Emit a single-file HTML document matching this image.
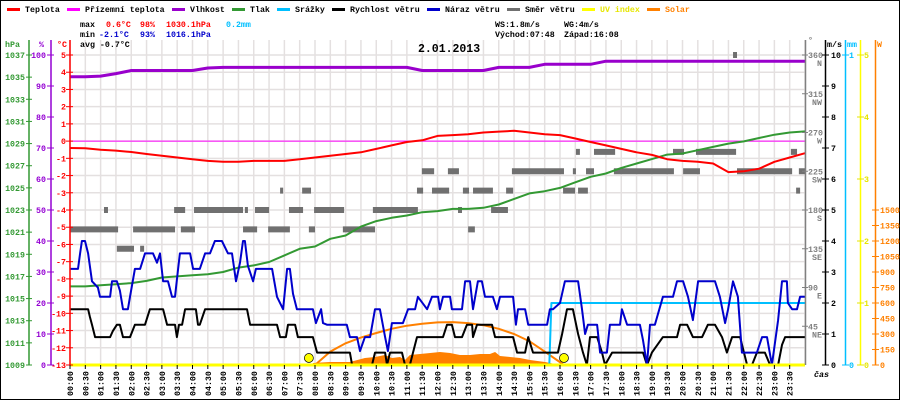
<!DOCTYPE html>
<html><head><meta charset="utf-8">
<style>
html,body{margin:0;padding:0;background:#fff}
#wrap{position:relative;width:900px;height:400px;overflow:hidden}
svg{display:block}
text{font-family:"Liberation Mono",monospace;font-size:8.3px;font-weight:bold}
</style></head>
<body>
<div id="wrap">
<svg id="chart" width="900" height="400" viewBox="0 0 900 400">
<rect x="0.5" y="0.5" width="899" height="399" fill="#fff" stroke="#000"/>
<g id="grid"></g>
<g id="marks"></g>
<g id="axes"></g>
<g id="legend"></g>
<g>
<text x="80" y="27">max</text>
<text x="106" y="27" fill="#f00">0.6°C</text>
<text x="140" y="27" fill="#f00">98%</text>
<text x="166" y="27" fill="#f00">1030.1hPa</text>
<text x="226" y="27" fill="#00bfff">0.2mm</text>
<text x="80" y="37">min</text>
<text x="99" y="37" fill="#00c">-2.1°C</text>
<text x="140" y="37" fill="#00c">93%</text>
<text x="166" y="37" fill="#00c">1016.1hPa</text>
<text x="80" y="47">avg -0.7°C</text>
<text x="495" y="27">WS:1.8m/s</text>
<text x="564" y="27">WG:4m/s</text>
<text x="495" y="37">Východ:07:48</text>
<text x="564" y="37">Západ:16:08</text>
<text x="418" y="52" style="font-size:11.5px;font-weight:bold">2.01.2013</text>
</g>
</svg>
</div>
<script>
// ---- data ----
const tempTimes=[0,0.5,1,1.5,2,2.5,3,3.5,4,4.5,5,5.5,6,6.5,7,7.5,8,8.5,9,9.5,10,10.5,11,11.5,12,12.5,13,13.5,14,14.5,15,15.5,16,16.5,17,17.5,18,18.5,19,19.5,20,20.5,21,21.5,22,22.5,23,23.5,24];
const tempValues=[-0.40,-0.42,-0.50,-0.55,-0.63,-0.75,-0.85,-0.95,-1.05,-1.15,-1.20,-1.20,-1.15,-1.15,-1.15,-1.05,-0.95,-0.85,-0.75,-0.65,-0.45,-0.25,-0.05,0.05,0.30,0.35,0.40,0.50,0.55,0.60,0.50,0.40,0.35,0.15,-0.05,-0.25,-0.45,-0.65,-0.80,-1.05,-1.15,-1.20,-1.30,-1.80,-1.75,-1.60,-1.20,-0.95,-0.70];
const humValues=[93,93,93.2,94,95,95,95,95,95,95.8,96,96,96,96,96,96,96,96,96,96,96,96,96,95,95,95,95,95,96,96,96,97,97,97,97,98,98,98,98,98,98,98,98,98,98,98,98,98,98];
const pressValues=[1016.1,1016.1,1016.2,1016.3,1016.4,1016.6,1016.9,1017.0,1017.1,1017.2,1017.4,1017.8,1018.0,1018.3,1018.9,1019.5,1019.7,1020.4,1020.7,1021.5,1022.0,1022.3,1022.5,1022.8,1022.9,1023.1,1023.1,1023.2,1023.5,1024.0,1024.5,1024.7,1025.0,1025.5,1026.0,1026.3,1026.8,1027.2,1027.6,1028.0,1028.1,1028.4,1028.7,1029.0,1029.2,1029.5,1029.8,1030.0,1030.1];
const feelsTimes=[0,24];
const feelsValues=[0,0];
const gustTimes=[0,0.26,0.33,0.39,0.49,0.59,0.72,0.91,0.98,1.31,1.37,1.53,1.63,1.73,1.89,1.96,2.12,2.29,2.45,2.71,2.84,2.94,3.04,3.20,3.33,3.43,3.53,3.59,3.92,4.02,4.24,4.41,4.57,4.73,4.96,5.16,5.29,5.42,5.55,5.65,5.71,5.81,5.98,6.07,6.60,6.76,6.96,7.09,7.18,7.28,7.41,7.93,8.03,8.20,8.26,8.39,9.04,9.14,9.37,9.47,9.63,9.80,9.96,10.12,10.29,10.38,10.51,10.87,11.04,11.27,11.36,11.66,11.82,12.02,12.08,12.18,12.41,12.47,12.80,12.90,13.06,13.16,13.32,13.45,13.55,13.81,13.94,14.04,14.47,14.56,14.63,14.86,14.96,15.58,15.67,15.77,16.00,16.16,16.59,16.72,16.82,16.91,17.21,17.31,17.53,17.63,17.96,18.02,18.19,18.61,18.71,18.84,18.94,19.10,19.36,19.69,19.82,20.02,20.18,20.34,20.51,21.06,21.22,21.39,21.49,21.65,21.81,21.94,22.43,22.60,22.76,22.92,23.12,23.25,23.41,23.44,23.58,23.74,23.84,24.00];
const gustValues=[3.1,3.1,3.6,4.0,4.0,3.6,2.7,2.5,2.2,2.2,2.7,2.7,2.4,1.8,1.8,2.2,3.1,3.1,3.6,3.6,3.3,3.6,2.7,2.7,2.2,2.2,3.1,3.6,3.6,3.1,3.1,3.6,3.6,4.0,4.0,3.6,3.6,2.7,3.3,4.0,4.0,3.2,2.7,3.1,3.1,2.2,1.8,3.1,3.1,2.3,1.8,1.8,1.35,1.8,1.35,1.3,1.3,0.9,0.9,0.45,0.9,0.9,1.8,1.8,0.9,0.45,1.35,1.35,1.8,1.8,2.2,1.8,2.2,2.2,1.8,2.2,2.2,1.8,1.8,2.7,2.7,1.8,2.7,2.7,2.2,2.2,1.8,2.2,2.2,1.3,1.8,1.8,1.3,1.3,1.8,1.8,2.0,2.7,2.7,1.8,1.0,1.3,1.3,0.4,0.4,1.3,1.3,1.8,1.3,1.3,0.8,0,1.3,1.3,2.2,2.2,2.7,2.7,2.2,1.45,2.7,2.7,2.2,1.35,1.8,2.7,2.2,0.4,0.4,0.9,0.9,0,1.45,2.7,2.7,2.0,1.8,1.8,2.2,2.2];
const windTimes=[0,0.59,0.65,0.72,0.82,1.31,1.40,1.53,1.63,1.73,1.96,2.12,2.45,2.61,3.04,3.17,3.43,3.49,3.56,3.66,3.76,4.11,4.18,4.24,4.41,5.78,5.88,6.76,6.86,7.05,7.12,7.35,7.44,7.93,8.07,9.14,9.21,9.86,9.96,10.29,10.35,10.45,10.84,10.94,11.10,11.20,11.33,12.18,12.31,12.47,12.57,12.80,12.96,13.13,13.16,13.29,13.78,13.88,14.47,14.60,14.86,14.96,15.12,15.93,16.07,16.23,16.42,16.59,16.75,16.88,16.98,17.21,17.37,17.47,17.70,18.71,18.84,19.00,19.36,19.82,19.92,20.15,20.34,20.64,20.83,21.06,21.29,21.45,21.62,21.88,22.11,22.27,22.43,22.69,22.86,23.12,23.25,23.35,24.00];
const windValues=[1.8,1.8,1.55,1.3,0.9,0.9,1.1,1.3,1.3,0.9,0.9,1.3,1.3,1.8,1.8,1.3,1.3,0.9,1.3,1.3,1.8,1.8,1.3,1.3,1.8,1.8,1.3,1.3,0.9,0.9,1.3,1.3,0.9,0.9,0.4,0.4,0,0,0.4,0.4,0,0.4,0.4,0,0,0.4,0.9,0.9,1.3,1.3,0.9,0.9,1.3,1.3,0.9,1.3,1.3,0.9,0.9,0.4,0.4,0.9,0.4,0.4,1.0,1.8,1.8,1.0,0.4,0,0.9,0.9,0.4,0,0.4,0.4,0,0.4,0.9,0.9,1.3,1.3,0.9,0.9,1.3,1.3,0.9,0.4,0.9,0.9,0,0,0.4,0.4,0,0,0.65,0.9,0.9];
const dirStart=[1.11,3.40,4.05,5.71,6.04,7.15,7.97,9.89,12.67,13.75, 0,2.06,3.62,5.65,6.47,7.80,8.91,13.00, 1.53,2.29, 6.86,7.58,11.33,11.82,12.83,13.16,14.24,16.10,16.59,23.71, 11.49,12.34,14.43,16.42,16.85,17.76,20.02,21.78,23.80, 16.52,17.11,19.69,20.44,23.54, 21.65];
const dirEnd=[1.24,3.76,5.65,5.81,6.50,7.61,8.95,11.36,12.80,14.30, 1.57,3.43,4.08,6.11,7.18,8.00,9.96,13.22, 2.09,2.42, 6.96,7.87,11.53,12.38,13.03,13.81,14.47,16.49,16.91,23.84, 11.89,12.70,16.13,16.52,17.11,19.72,20.57,23.58,24.00, 16.65,17.80,20.05,21.75,23.74, 21.78];
const dirDeg=[180,180,180,180,180,180,180,180,180,180, 157.5,157.5,157.5,157.5,157.5,157.5,157.5,157.5, 135,135, 202.5,202.5,202.5,202.5,202.5,202.5,202.5,202.5,202.5,202.5, 225,225,225,225,225,225,225,225,225, 247.5,247.5,247.5,247.5,247.5, 360];
const rainTimes=[0,15.65,15.72,24];
const rainValues=[0,0,0.2,0.2];
const uvTimes=[0,24];
const uvValues=[0,0];
const solarTimes=[7.93,8.49,9.14,9.63,9.96,10.29,10.51,10.78,10.94,11.10,11.43,11.76,12.08,12.41,12.73,13.06,13.39,13.71,13.88,14.04,14.37,14.69,15.02,15.51,15.84];
const solarValues=[19,29,29,68,77,97,68,77,48,97,106,116,126,116,97,97,106,106,126,87,77,68,48,29,10];
const solarMaxTimes=[8.0,8.5,9.0,9.5,10,10.5,11,11.5,12,12.5,13,13.5,14,14.5,15,15.5,16.13];
const solarMaxValues=[0,130,210,265,310,350,380,400,412,415,405,385,350,300,230,130,0];
const sunTimes=[7.8,16.13];
const tickHours=[0,0.5,1,1.5,2,2.5,3,3.5,4,4.5,5,5.5,6,6.5,7,7.5,8,8.5,9,9.5,10,10.5,11,11.5,12,12.5,13,13.5,14,14.5,15,15.5,16,16.5,17,17.5,18,18.5,19,19.5,20,20.5,21,21.5,22,22.5,23,23.5];
const tempTicks=[5,4,3,2,1,0,-1,-2,-3,-4,-5,-6,-7,-8,-9,-10,-11,-12,-13];
const pressTicks=[1037,1035,1033,1031,1029,1027,1025,1023,1021,1019,1017,1015,1013,1011,1009];
const humTicks=[100,90,80,70,60,50,40,30,20,10,0];
const dirTicks=[360,315,270,225,180,135,90,45];
const dirNames=["N","NW","W","SW","S","SE","E","NE"];
const windTicks=[10,9,8,7,6,5,4,3,2,1,0];
const uvTicks=[5,4,3,2,1,0];
const solarTicks=[1500,1350,1200,1050,900,750,600,450,300,150,0];

// ---- scales ----
const X0=70,X1=805,Y0=55,Y1=365;
const xH=h=>X0+h*(X1-X0)/24;
const yT=t=>Y0+(5-t)*(Y1-Y0)/18;
const yP=p=>Y0+(1037-p)*(Y1-Y0)/28;
const yHu=p=>Y1-p*(Y1-Y0)/100;
const yW=v=>Y1-v*(Y1-Y0)/10;
const yD=d=>Y1-d*(Y1-Y0)/360;
const yMM=m=>Y1-m*(Y1-Y0);
const yUV=u=>Y1-u*(Y1-Y0)/5;
const ySo=w=>Y1-w*(Y1-Y0)/3000;

const NS="http://www.w3.org/2000/svg";
function mk(tag,attrs,parent){const e=document.createElementNS(NS,tag);for(const k in attrs)e.setAttribute(k,attrs[k]);parent.appendChild(e);return e;}
const grid=document.getElementById('grid'),marks=document.getElementById('marks'),axes=document.getElementById('axes'),legend=document.getElementById('legend');

// grid
tickHours.concat([24]).forEach((h,i)=>{const l=mk('line',{x1:xH(h),x2:xH(h),y1:40,y2:Y1,stroke:'#e4e0e0','stroke-width':1.5},grid);

});
tempTicks.forEach(t=>{const l=mk('line',{x1:X0,x2:X1,y1:yT(t),y2:yT(t),stroke:'#e4e0e0','stroke-width':1.5},grid);

});

function pathFrom(ts,vs,xf,yf){return ts.map((t,i)=>(i?'L':'M')+xf(t).toFixed(1)+','+yf(vs[i]).toFixed(1)).join('');}

// solar area
let sd='M'+xH(solarTimes[0])+','+Y1+solarTimes.map((t,i)=>'L'+xH(t).toFixed(1)+','+ySo(solarValues[i]).toFixed(1)).join('')+'L'+xH(solarTimes[solarTimes.length-1])+','+Y1+'Z';
const sArea=mk('path',{d:sd,fill:'#ff8000'},marks);


const sMax=mk('path',{d:pathFrom(solarMaxTimes,solarMaxValues,xH,ySo),fill:'none',stroke:'#ff8000','stroke-width':2},marks);



// direction
dirDeg.forEach((d,i)=>{const r=mk('rect',{x:xH(dirStart[i]),y:yD(d)-3,width:Math.max(3,xH(dirEnd[i])-xH(dirStart[i])),height:6,fill:'#707070'},marks);

});

// feels-like
const fl=mk('path',{d:pathFrom(feelsTimes,feelsValues,xH,yT),fill:'none',stroke:'#ff00ff','stroke-width':1},marks);



const series=[
 ['pressure-line',tempTimes,pressValues,yP,'#339933',2],
 ['humidity-line',tempTimes,humValues,yHu,'#9900cc',3],
 ['temperature-line',tempTimes,tempValues,yT,'#ff0000',2],
 ['rain-line',rainTimes,rainValues,yMM,'#00bfff',2],
 ['wind-speed-line',windTimes,windValues,yW,'#000000',2],
 ['wind-gust-line',gustTimes,gustValues,yW,'#0000cc',2],
 ['uv-line',uvTimes,uvValues,yUV,'#ffff00',3]];
series.forEach(s=>{const p=mk('path',{d:pathFrom(s[1],s[2],xH,s[3]),fill:'none',stroke:s[4],'stroke-width':s[5],'stroke-linejoin':'round'},marks);

});

sunTimes.forEach(t=>{const c=mk('circle',{cx:xH(t),cy:358,r:4.5,fill:'#ffff00',stroke:'#000','stroke-width':0.7},marks);

});

// axes
function vaxis(name,x,color){const l=mk('line',{x1:x,x2:x,y1:40,y2:Y1,stroke:color,'stroke-width':1.5},axes);

}
function lbl(name,x,y,txt,color,anchor){const t=mk('text',{x:x,y:y,fill:color,'text-anchor':anchor||'start'},axes);t.textContent=txt;

return t;}
function tick(x1,x2,y,color){mk('line',{x1:x1,x2:x2,y1:y,y2:y,stroke:color,'stroke-width':1},axes);}
vaxis('pressure-axis',29,'#339933');
vaxis('humidity-axis',51,'#9400d3');
vaxis('temperature-axis',70,'#ff0000');
vaxis('direction-axis',805.5,'#808080');
vaxis('wind-axis',825.5,'#000');
vaxis('rain-axis',845.5,'#00bfff');
vaxis('uv-axis',860.5,'#ffff00');
vaxis('solar-axis',875.5,'#ff8000');
pressTicks.forEach(p=>{tick(26,32,yP(p),'#339933');lbl('pressure-tick-label',25,yP(p)+3,String(p),'#339933','end');});
humTicks.forEach(p=>{tick(47,54,yHu(p),'#9400d3');lbl('humidity-tick-label',46,yHu(p)+3,String(p),'#9400d3','end');});
tempTicks.forEach(t=>{tick(66,73,yT(t),'#ff0000');lbl('temperature-tick-label',66,yT(t)+3,String(t),'#ff0000','end');});
dirTicks.forEach((d,i)=>{tick(802,808,yD(d),'#808080');lbl('direction-tick-label',808,yD(d)+3,String(d),'#808080');lbl('direction-name-label',822,yD(d)+11,dirNames[i],'#808080','end');});
windTicks.forEach(v=>{tick(822,829,yW(v),'#000');lbl('wind-tick-label',831,yW(v)+3,String(v),'#000');});
lbl('rain-tick-label',849,yMM(1)+3,'1','#00bfff');tick(842,849,yMM(1),'#00bfff');
lbl('rain-tick-label',849,yMM(0)+3,'0','#00bfff');tick(842,849,yMM(0),'#00bfff');
uvTicks.forEach(u=>{tick(857,864,yUV(u),'#e6e600');lbl('uv-tick-label',864,yUV(u)+3,String(u),'#e6e600');});
solarTicks.forEach(w=>{tick(872,879,ySo(w),'#ff8000');lbl('solar-tick-label',880,ySo(w)+3,String(w),'#ff8000');});
lbl('pressure-axis-title',5,47,'hPa','#339933');
lbl('humidity-axis-title',39,47,'%','#9400d3');
lbl('temperature-axis-title',57,47,'°C','#ff0000');
lbl('direction-axis-title',808,43,'°','#808080');
lbl('wind-axis-title',827,47,'m/s','#000');
lbl('rain-axis-title',847,47,'mm','#00bfff');
lbl('solar-axis-title',877,47,'W','#ff8000');
const cas=lbl('x-axis-title',814,377,'čas','#000');cas.setAttribute('font-style','italic');
tickHours.forEach(h=>{const x=xH(h);mk('line',{x1:x,x2:x,y1:Y1,y2:Y1+4,stroke:'#000'},axes);
const s=String(Math.floor(h)).padStart(2,'0')+':'+(h%1?'30':'00');
const t=mk('text',{x:0,y:0,transform:'translate('+(x+3)+',396) rotate(-90)',fill:'#000'},axes);t.textContent=s;

});

// legend
const legNames=['Teplota','Přízemní teplota','Vlhkost','Tlak','Srážky','Rychlost větru','Náraz větru','Směr větru','UV index','Solar'];
const legColors=['#ff0000','#ff00ff','#9900cc','#339933','#00bfff','#000000','#0000cc','#707070','#ffff00','#ff8000'];
const legX=[25,85,190,250,295,350,445,525,600,665];
legNames.forEach((n,i)=>{const g=mk('g',{},legend);


mk('rect',{x:legX[i]-18,y:8,width:13,height:3,fill:legColors[i]},g);
const t=mk('text',{x:legX[i],y:12,fill:i===8?'#e6e600':(i===9?'#ff8000':'#000')},g);t.textContent=n;});
</script>
</body></html>
